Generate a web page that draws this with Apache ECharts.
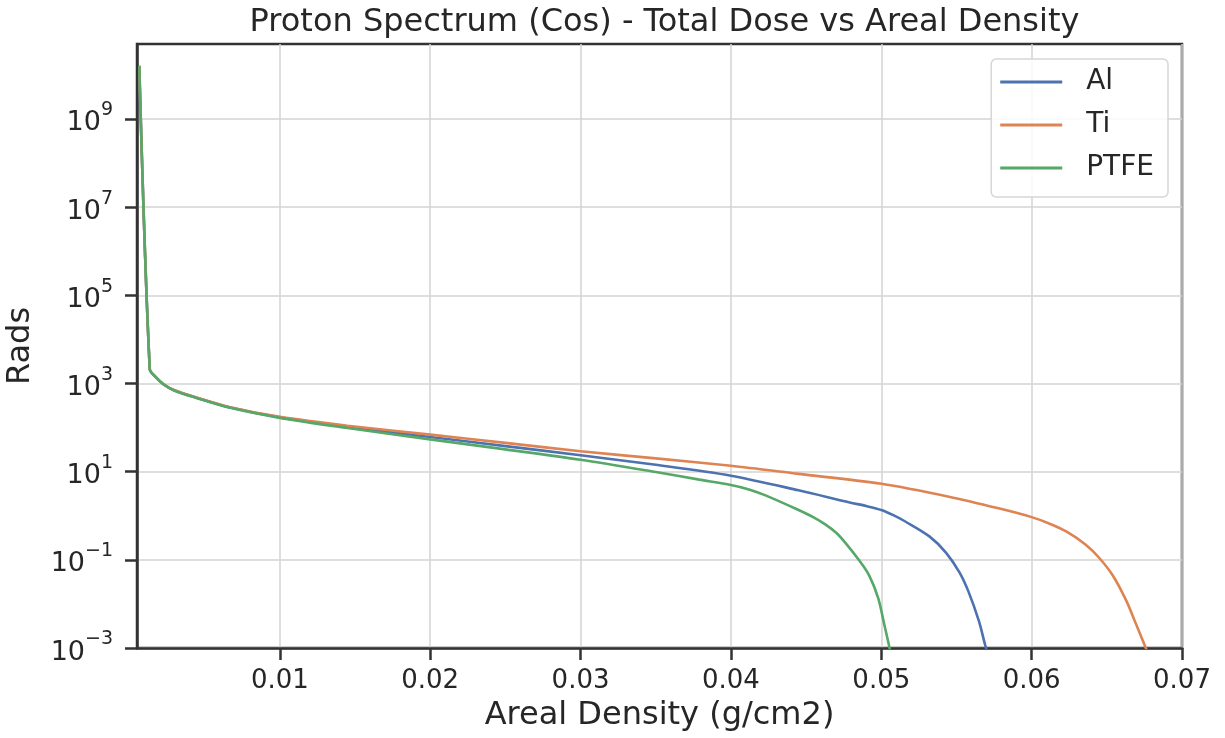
<!DOCTYPE html>
<html>
<head>
<meta charset="utf-8">
<script src="https://cdn.jsdelivr.net/npm/echarts@6/dist/echarts.min.js"></script>
<style>
html,body{margin:0;padding:0;background:#fff;}
#chart{width:1225px;height:738px;}
</style>
</head>
<body>
<div id="chart"></div>
<script>
// ---- data ----
const seriesNames = ['Al', 'Ti', 'PTFE'];
const alX = [0.00065, 0.00135, 0.0017, 0.00227, 0.003, 0.0045, 0.0067, 0.01, 0.0145, 0.02, 0.025, 0.03, 0.035, 0.04, 0.0445, 0.0479, 0.049, 0.05, 0.0508, 0.0516, 0.0532, 0.0543, 0.0552, 0.0558, 0.0565, 0.0569, 0.0573];
const alY = [1.6e10, 2100, 1450, 955, 695, 470, 285, 170, 104, 61, 38, 23.5, 14.3, 8.1, 3.77, 2.0, 1.66, 1.35, 1.03, 0.74, 0.34, 0.146, 0.052, 0.019, 0.004, 0.0012, 0.0004];
const tiX = [0.00065, 0.00135, 0.0017, 0.00227, 0.003, 0.0045, 0.0067, 0.01, 0.0145, 0.02, 0.025, 0.03, 0.035, 0.04, 0.0445, 0.05, 0.0545, 0.0578, 0.06, 0.0612, 0.0623, 0.0636, 0.0645, 0.0654, 0.0663, 0.0669, 0.0675, 0.068];
const tiY = [1.6e10, 2100, 1450, 960, 700, 475, 290, 175, 110, 69, 45, 29, 20, 13.6, 8.9, 5.3, 2.7, 1.47, 0.93, 0.66, 0.44, 0.22, 0.11, 0.044, 0.0117, 0.0038, 0.0012, 0.00045];
const ptfeX = [0.00065, 0.00135, 0.0017, 0.00227, 0.003, 0.0045, 0.0067, 0.01, 0.0145, 0.02, 0.025, 0.03, 0.035, 0.0379, 0.04, 0.0412, 0.0423, 0.0445, 0.0455, 0.0463, 0.047, 0.0476, 0.0485, 0.0492, 0.0498, 0.0502, 0.0505, 0.0508];
const ptfeY = [1.6e10, 2100, 1440, 945, 685, 465, 280, 166, 98, 54, 32, 18.6, 9.8, 6.6, 5.0, 3.96, 2.9, 1.35, 0.92, 0.63, 0.41, 0.245, 0.10, 0.044, 0.0133, 0.0034, 0.0012, 0.0004];
const xTicks = [0.01, 0.02, 0.03, 0.04, 0.05, 0.06, 0.07];
const xLabels = ['0.01', '0.02', '0.03', '0.04', '0.05', '0.06', '0.07'];
const yTickExps = [-3, -1, 1, 3, 5, 7, 9];

const colors = ['#4c72b0', '#dd8452', '#55a868'];
const txt = '#262626';
const FONT = 'DejaVu Sans';

function zip(xs, ys) { return xs.map((x, i) => [x, ys[i]]); }
const yTickVals = yTickExps.map(e => Math.pow(10, e));
function supStr(e) { return (e < 0 ? '\u2212' : '') + Math.abs(e); }

const chart = echarts.init(document.getElementById('chart'), null, {renderer: 'canvas'});
chart.setOption({
  animation: false,
  backgroundColor: '#ffffff',
  color: colors,
  textStyle: {fontFamily: FONT, color: txt},
  title: {
    text: 'Proton Spectrum (Cos) - Total Dose vs Areal Density',
    left: 659.5, top: 2, textAlign: 'center',
    textStyle: {fontFamily: FONT, fontSize: 32, fontWeight: 'normal', color: txt}
  },
  grid: {left: 137, right: 43, top: 44, bottom: 90, outerBoundsMode: 'none', containLabel: false, show: true, borderColor: '#333333', borderWidth: 2.5, backgroundColor: 'transparent'},
  legend: {
    data: seriesNames.map(n => ({name: n, icon: 'rect'})),
    orient: 'vertical', right: 57, top: 59,
    itemWidth: 62, itemHeight: 3, itemGap: 13,
    padding: [8, 14, 14, 9],
    backgroundColor: 'rgba(255,255,255,0.85)',
    borderColor: '#d6d6d6', borderWidth: 1.5, borderRadius: 5,
    textStyle: {fontFamily: FONT, fontSize: 28, color: txt, lineHeight: 30, padding: [0, 0, 0, 19]}
  },
  xAxis: {
    type: 'value', min: 0.0005, max: 0.07, splitNumber: 7,
    name: 'Areal Density (g/cm2)', nameLocation: 'middle', nameGap: 52,
    nameTextStyle: {fontFamily: FONT, fontSize: 32, color: txt},
    axisLine: {show: true, onZero: false, lineStyle: {color: '#333333', width: 2.5}},
    axisTick: {show: true, length: 12, lineStyle: {color: '#333333', width: 2.5}, customValues: xTicks},
    axisLabel: {
      fontFamily: FONT, fontSize: 26, color: txt, margin: 20, customValues: xTicks,
      formatter: function (v) {
        for (let i = 0; i < xTicks.length; i++) if (Math.abs(v - xTicks[i]) < 1e-9) return xLabels[i];
        return '';
      }
    },
    splitLine: {show: true, lineStyle: {color: '#d3d3d3', width: 1.5}}
  },
  yAxis: {
    type: 'log', logBase: 10, min: 0.001, max: Math.pow(10, 10.7),
    name: 'Rads', nameLocation: 'middle', nameGap: 100,
    nameTextStyle: {fontFamily: FONT, fontSize: 32, color: txt},
    axisLine: {show: true, lineStyle: {color: '#333333', width: 2.5}},
    axisTick: {show: true, length: 12, lineStyle: {color: '#333333', width: 2.5}, customValues: yTickVals},
    axisLabel: {
      margin: 24, customValues: yTickVals,
      formatter: function (v) {
        const l = Math.log10(v);
        const e = Math.round(l);
        if (Math.abs(l - e) > 1e-6 || yTickExps.indexOf(e) < 0) return '';
        return '{b|10}{s|' + supStr(e) + '}';
      },
      rich: {
        b: {fontFamily: FONT, fontSize: 27, color: txt, lineHeight: 36, verticalAlign: 'bottom'},
        s: {fontFamily: FONT, fontSize: 19, color: txt, lineHeight: 19, verticalAlign: 'top'}
      }
    },
    splitLine: {show: true, lineStyle: {color: '#d3d3d3', width: 1.5}}
  },
  series: [
    {name: 'Al', type: 'line', data: zip(alX, alY), smooth: 0.3, showSymbol: false, symbol: 'none', lineStyle: {width: 2.6, color: colors[0]}, clip: true},
    {name: 'Ti', type: 'line', data: zip(tiX, tiY), smooth: 0.3, showSymbol: false, symbol: 'none', lineStyle: {width: 2.6, color: colors[1]}, clip: true},
    {name: 'PTFE', type: 'line', data: zip(ptfeX, ptfeY), smooth: 0.3, showSymbol: false, symbol: 'none', lineStyle: {width: 2.6, color: colors[2]}, clip: true}
  ]
});
</script>
</body>
</html>
